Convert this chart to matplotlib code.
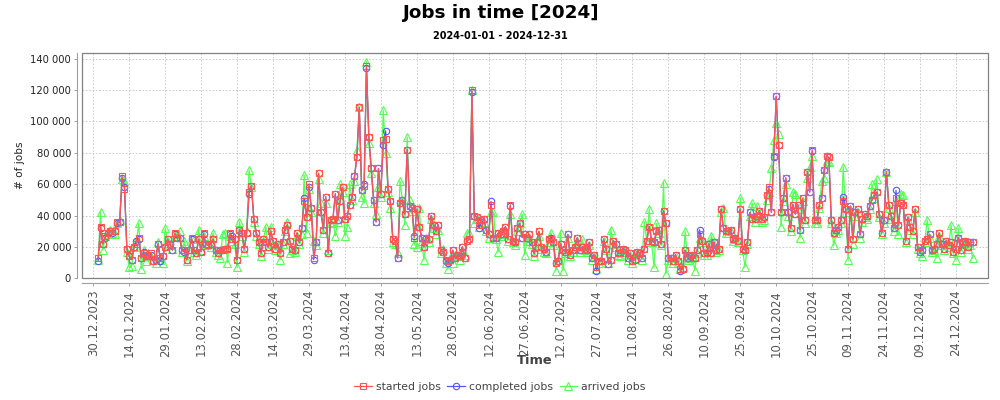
import numpy as np
import pandas as pd
import matplotlib
matplotlib.use("Agg")
import matplotlib.pyplot as plt
import matplotlib.dates as mdates
from matplotlib.patches import Rectangle
from matplotlib.ticker import FuncFormatter

# daily values in thousands of jobs, 2024-01-01 .. 2024-12-31
started_k = [
    13, 33, 22, 27, 29, 30, 30, 30, 36, 36,
    65, 57, 19, 14, 12, 20, 22, 26, 13, 16,
    14, 15, 16, 11, 12, 22, 13, 14, 20, 25,
    22, 18, 29, 26, 26, 18, 18, 12, 18, 26,
    18, 16, 25, 17, 29, 22, 21, 22, 25, 18,
    16, 18, 18, 19, 19, 29, 25, 25, 12, 31,
    29, 19, 29, 55, 59, 38, 29, 23, 16, 25,
    23, 20, 30, 24, 19, 22, 16, 23, 31, 34,
    24, 19, 18, 29, 23, 32, 49, 39, 60, 45,
    13, 23, 67, 42, 31, 52, 16, 37, 38, 54,
    37, 49, 58, 38, 40, 47, 52, 65, 77, 109,
    56, 59, 135, 90, 70, 50, 36, 70, 54, 88,
    89, 57, 49, 25, 24, 13, 48, 50, 41, 82,
    46, 45, 26, 44, 33, 26, 20, 26, 25, 40,
    34, 30, 34, 18, 17, 12, 11, 12, 18, 13,
    15, 14, 20, 13, 24, 25, 120, 40, 39, 34,
    37, 38, 31, 28, 47, 26, 26, 29, 28, 30,
    33, 25, 47, 24, 23, 32, 35, 26, 28, 26,
    28, 23, 16, 23, 30, 20, 19, 17, 25, 25,
    23, 10, 11, 22, 18, 17, 28, 15, 18, 20,
    26, 18, 20, 19, 18, 23, 13, 15, 7, 11,
    11, 25, 19, 9, 12, 24, 22, 16, 16, 19,
    18, 13, 16, 11, 12, 17, 16, 13, 19, 24,
    33, 24, 23, 30, 31, 22, 43, 35, 13, 13,
    11, 15, 11, 6, 6, 18, 13, 14, 15, 13,
    18, 28, 24, 16, 16, 22, 16, 23, 18, 19,
    44, 32, 30, 30, 31, 25, 26, 24, 44, 19,
    18, 23, 42, 38, 38, 40, 43, 38, 39, 53,
    58, 42, 78, 116, 85, 42, 51, 64, 42, 32,
    47, 41, 47, 31, 51, 37, 68, 55, 82, 37,
    37, 47, 51, 69, 78, 77, 37, 29, 31, 33,
    37, 49, 44, 19, 46, 25, 42, 44, 28, 38,
    41, 40, 46, 50, 53, 55, 41, 29, 37, 68,
    47, 40, 32, 51, 34, 48, 47, 24, 39, 33,
    30, 44, 20, 17, 18, 24, 25, 28, 18, 19,
    22, 29, 22, 19, 24, 21, 23, 17, 19, 26,
    18, 23, 24, 20, 23, 23,
]

completed_k = [
    11, 32, 22, 26, 29, 30, 29, 30, 35, 36,
    64, 58, 19, 14, 12, 20, 24, 25, 13, 17,
    14, 15, 15, 11, 12, 22, 11, 14, 20, 25,
    22, 18, 28, 26, 26, 18, 17, 12, 18, 25,
    18, 16, 25, 17, 28, 22, 21, 22, 25, 18,
    16, 18, 18, 19, 19, 28, 27, 25, 12, 31,
    29, 19, 29, 54, 59, 38, 29, 23, 16, 25,
    23, 20, 30, 24, 19, 22, 16, 23, 31, 34,
    24, 19, 18, 29, 23, 32, 51, 39, 58, 45,
    12, 23, 67, 42, 31, 52, 16, 37, 38, 54,
    37, 49, 58, 38, 40, 47, 52, 65, 77, 109,
    56, 60, 134, 90, 70, 50, 36, 70, 54, 85,
    94, 57, 49, 25, 24, 13, 48, 50, 41, 82,
    46, 45, 27, 44, 33, 26, 20, 26, 25, 40,
    34, 30, 34, 18, 17, 11, 10, 12, 18, 13,
    15, 14, 20, 13, 24, 25, 119, 40, 39, 32,
    37, 38, 31, 28, 49, 26, 26, 29, 28, 30,
    33, 25, 46, 24, 23, 32, 35, 26, 28, 26,
    28, 23, 16, 23, 30, 20, 19, 17, 25, 26,
    23, 10, 11, 22, 18, 17, 28, 15, 18, 20,
    26, 18, 20, 19, 18, 23, 13, 15, 5, 11,
    11, 25, 19, 9, 12, 24, 22, 16, 16, 19,
    18, 13, 16, 11, 12, 17, 16, 13, 19, 24,
    33, 24, 23, 30, 31, 22, 43, 35, 13, 13,
    11, 15, 11, 5, 6, 18, 13, 14, 15, 13,
    18, 31, 24, 16, 16, 22, 16, 23, 18, 19,
    44, 32, 30, 30, 31, 25, 26, 24, 44, 19,
    18, 23, 42, 38, 38, 40, 43, 38, 39, 53,
    57, 42, 77, 116, 85, 42, 51, 64, 42, 32,
    47, 41, 47, 31, 51, 37, 68, 55, 81, 37,
    37, 47, 51, 69, 78, 77, 37, 29, 31, 33,
    37, 52, 44, 19, 46, 25, 42, 44, 28, 38,
    41, 40, 46, 50, 53, 55, 41, 29, 37, 68,
    47, 40, 32, 56, 34, 48, 47, 24, 39, 33,
    30, 44, 20, 17, 18, 24, 25, 28, 18, 19,
    22, 29, 22, 19, 24, 21, 23, 17, 19, 26,
    18, 23, 24, 20, 23, 23,
]

arrived_k = [
    12, 42, 18, 27, 28, 31, 29, 28, 35, 37,
    63, 62, 17, 7, 8, 20, 24, 35, 6, 18,
    11, 16, 14, 12, 10, 23, 12, 10, 32, 24,
    21, 19, 27, 28, 30, 17, 24, 11, 19, 25,
    17, 15, 31, 18, 27, 21, 22, 20, 29, 17,
    15, 13, 28, 29, 10, 27, 24, 22, 7, 36,
    27, 17, 30, 69, 58, 36, 27, 22, 14, 24,
    33, 19, 33, 22, 18, 21, 12, 22, 30, 36,
    16, 18, 17, 27, 22, 28, 66, 29, 57, 42,
    24, 21, 63, 48, 29, 48, 18, 35, 36, 27,
    36, 60, 55, 27, 33, 60, 50, 62, 82, 109,
    52, 48, 138, 86, 67, 48, 41, 58, 52, 107,
    80, 55, 45, 23, 22, 16, 62, 50, 34, 90,
    50, 43, 22, 20, 45, 24, 12, 25, 23, 38,
    32, 28, 31, 16, 19, 10, 6, 13, 10, 15,
    14, 12, 18, 15, 29, 29, 120, 35, 38, 33,
    35, 36, 30, 26, 42, 42, 25, 17, 27, 28,
    31, 24, 41, 23, 21, 30, 35, 41, 15, 24,
    26, 22, 14, 21, 27, 19, 17, 16, 23, 29,
    21, 5, 12, 29, 5, 16, 26, 14, 17, 19,
    24, 17, 25, 18, 17, 21, 12, 14, 6, 10,
    12, 24, 18, 10, 31, 22, 20, 15, 14, 18,
    17, 12, 15, 10, 13, 16, 15, 12, 36, 23,
    44, 23, 7, 35, 29, 21, 61, 3, 12, 12,
    10, 14, 10, 6, 7, 30, 12, 13, 14, 5,
    16, 26, 23, 15, 15, 21, 27, 22, 17, 18,
    42, 45, 29, 29, 30, 24, 25, 23, 51, 18,
    7, 22, 40, 48, 36, 46, 41, 36, 37, 50,
    55, 70, 88, 99, 92, 33, 49, 60, 40, 30,
    55, 54, 44, 26, 49, 35, 64, 71, 78, 35,
    35, 45, 62, 64, 75, 74, 35, 21, 29, 31,
    35, 71, 42, 12, 44, 22, 40, 42, 26, 36,
    39, 38, 44, 60, 51, 63, 39, 28, 35, 68,
    45, 38, 30, 49, 28, 54, 53, 23, 37, 31,
    28, 42, 19, 16, 14, 23, 37, 26, 17, 18,
    13, 27, 21, 18, 23, 20, 34, 16, 12, 32,
    17, 22, 23, 19, 21, 13,
]

series_names = ["started jobs", "completed jobs", "arrived jobs"]
tick_dates = pd.date_range("2023-12-30", "2024-12-31", freq="15D")
y_ticks = [0, 20000, 40000, 60000, 80000, 100000, 120000, 140000]

days = pd.date_range("2024-01-01", periods=len(started_k), freq="D")
started = np.array(started_k) * 1000
completed = np.array(completed_k) * 1000
arrived = np.array(arrived_k) * 1000

fig = plt.figure(figsize=(10, 4), dpi=100)
fig.patch.set_facecolor("white")
ax = fig.add_axes([0.0817, 0.304, 0.9063, 0.5625])

# JFreeChart draws series 0 on top
ax.plot(days, arrived, color="#55FF55", lw=0.9, marker="^", ms=5.2, mfc="none",
        mew=0.8, label=series_names[2], zorder=3)
ax.plot(days, completed, color="#5555FF", lw=0.9, marker="o", ms=4.6, mfc="none",
        mew=0.8, label=series_names[1], zorder=4)
ax.plot(days, started, color="#FF5555", lw=0.9, marker="s", ms=4.3, mfc="none",
        mew=0.8, label=series_names[0], zorder=5)

ax.set_xlim(pd.Timestamp("2024-01-01") - pd.Timedelta(days=6.85),
            pd.Timestamp("2024-01-01") + pd.Timedelta(days=371.4))
ax.set_ylim(0, 143300)

ax.set_xticks(tick_dates)
ax.xaxis.set_major_formatter(mdates.DateFormatter("%d.%m.%Y"))
ax.set_yticks(y_ticks)
ax.yaxis.set_major_formatter(FuncFormatter(lambda v, p: f"{v:,.0f}".replace(",", " ")))

ax.grid(True, color="#C4C4C4", linestyle=(0, (2, 2)), linewidth=0.6)
ax.set_axisbelow(True)

for side in ["top", "right"]:
    ax.spines[side].set_visible(False)
for side in ["left", "bottom"]:
    ax.spines[side].set_position(("outward", 3.2))
    ax.spines[side].set_color("#A0A0A0")
    ax.spines[side].set_linewidth(0.8)
ax.add_patch(Rectangle((0, 0), 1, 1, transform=ax.transAxes, fill=False,
                       edgecolor="#808080", lw=0.9, clip_on=False, zorder=6))

ax.tick_params(axis="y", length=2.5, width=0.7, color="#A0A0A0", pad=2,
               labelsize=7.2, labelcolor="#222222")
ax.tick_params(axis="x", length=2.5, width=0.7, color="#A0A0A0", pad=2.5,
               labelsize=8.4, labelcolor="#555555", rotation=90)

fig.text(0.5, 0.968, "Jobs in time [2024]", ha="center", va="center",
         fontsize=13.2, fontweight="bold")
fig.text(0.5, 0.911, "2024-01-01 - 2024-12-31", ha="center", va="center",
         fontsize=7, fontweight="bold")
fig.text(0.020, 0.586, "# of jobs", rotation=90, ha="center", va="center",
         fontsize=7.6, color="#222222")
fig.text(0.535, 0.0975, "Time", ha="center", va="center", fontsize=9.4,
         fontweight="bold", color="#444444")

handles, labels = ax.get_legend_handles_labels()
leg = fig.legend(handles[::-1], labels[::-1], loc="center", bbox_to_anchor=(0.5, 0.032),
                 ncol=3, frameon=False, fontsize=7.8, handlelength=1.6,
                 handletextpad=0.4, columnspacing=0.6)
for t in leg.get_texts():
    t.set_color("#444444")

fig.savefig("out.png", dpi=100, facecolor="white")
